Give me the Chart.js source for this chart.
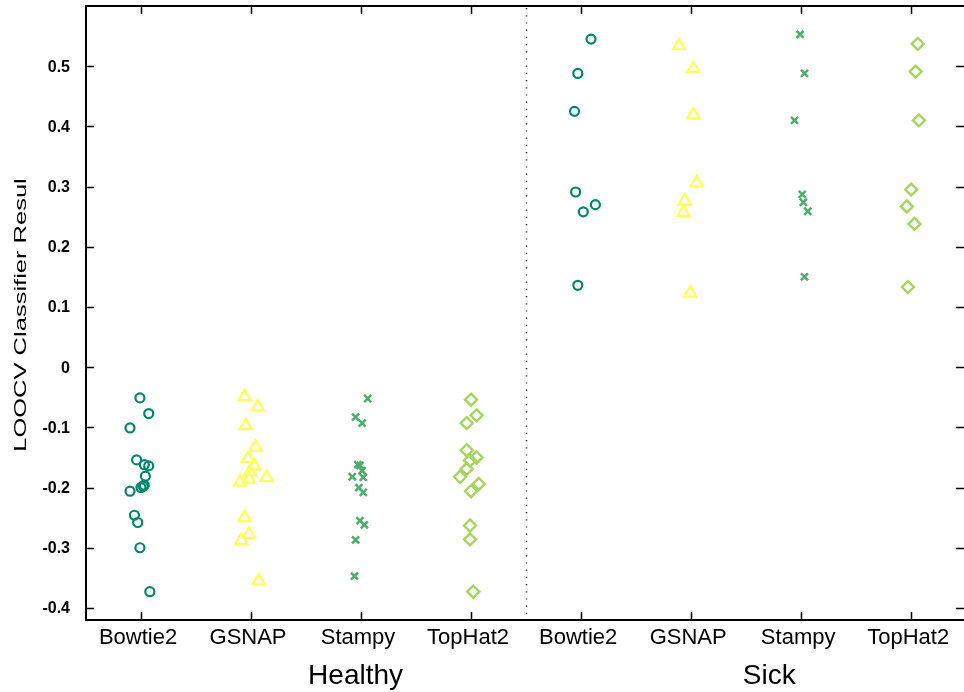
<!DOCTYPE html>
<html>
<head>
<meta charset="utf-8">
<script src="https://cdn.jsdelivr.net/npm/chart.js@4"></script>
<style>
  html, body { margin: 0; padding: 0; background: #fff; overflow: hidden; }
  #wrap { position: absolute; left: 0; top: 0; width: 964px; height: 692px; }
  #chart { display: block; }
</style>
</head>
<body>
<div id="wrap"><canvas id="chart"></canvas></div>
<script>
// categories on the x axis (two groups of four aligners)
const categories = ['Bowtie2', 'GSNAP', 'Stampy', 'TopHat2', 'Bowtie2', 'GSNAP', 'Stampy', 'TopHat2'];
const groupNames = ['Healthy', 'Sick'];
const groupLabelX = [2.95, 6.71];
const yTicks = [-0.4, -0.3, -0.2, -0.1, 0, 0.1, 0.2, 0.3, 0.4, 0.5];

// LOOCV results, healthy samples
const healthyBowtie2 = [-0.051, -0.077, -0.101, -0.154, -0.162, -0.164, -0.181, -0.196, -0.198, -0.200, -0.206, -0.246, -0.258, -0.300, -0.373];
const healthyBowtie2Jit = [-0.01, 0.07, -0.10, -0.04, 0.03, 0.07, 0.04, 0.03, 0.02, 0.00, -0.10, -0.06, -0.03, -0.01, 0.08];
const healthyGSNAP = [-0.049, -0.066, -0.097, -0.133, -0.152, -0.164, -0.174, -0.183, -0.186, -0.191, -0.250, -0.278, -0.288, -0.355];
const healthyGSNAPJit = [-0.06, 0.06, -0.05, 0.04, -0.03, 0.03, -0.01, 0.14, -0.02, -0.10, -0.06, -0.02, -0.09, 0.07];
const healthyStampy = [-0.052, -0.083, -0.093, -0.162, -0.163, -0.172, -0.182, -0.183, -0.200, -0.208, -0.255, -0.262, -0.287, -0.347];
const healthyStampyJit = [0.06, -0.05, 0.01, -0.03, -0.01, 0.01, -0.08, 0.02, -0.02, 0.02, -0.01, 0.03, -0.05, -0.06];
const healthyTopHat2 = [-0.054, -0.080, -0.093, -0.138, -0.150, -0.155, -0.169, -0.182, -0.194, -0.206, -0.263, -0.286, -0.373];
const healthyTopHat2Jit = [0.00, 0.05, -0.04, -0.04, 0.05, -0.01, -0.04, -0.10, 0.07, 0.00, -0.01, -0.01, 0.02];

// LOOCV results, sick samples
const sickBowtie2 = [0.545, 0.488, 0.425, 0.291, 0.270, 0.258, 0.136];
const sickBowtie2Jit = [0.09, -0.03, -0.06, -0.05, 0.13, 0.02, -0.03];
const sickGSNAP = [0.534, 0.496, 0.419, 0.306, 0.276, 0.257, 0.123];
const sickGSNAPJit = [-0.11, 0.02, 0.02, 0.05, -0.06, -0.07, -0.01];
const sickStampy = [0.553, 0.488, 0.410, 0.287, 0.274, 0.259, 0.150];
const sickStampyJit = [-0.01, 0.03, -0.06, 0.01, 0.02, 0.06, 0.03];
const sickTopHat2 = [0.537, 0.491, 0.410, 0.295, 0.267, 0.238, 0.133];
const sickTopHat2Jit = [0.06, 0.04, 0.07, 0.00, -0.04, 0.03, -0.03];

const groups = [
  [healthyBowtie2, healthyBowtie2Jit], [healthyGSNAP, healthyGSNAPJit],
  [healthyStampy, healthyStampyJit], [healthyTopHat2, healthyTopHat2Jit],
  [sickBowtie2, sickBowtie2Jit], [sickGSNAP, sickGSNAPJit],
  [sickStampy, sickStampyJit], [sickTopHat2, sickTopHat2Jit]
];

// one marker style per aligner
const markerStyle = {
  Bowtie2: { pointStyle: 'circle', color: '#00876b', radius: 4.5, width: 2.2 },
  GSNAP: { pointStyle: 'triangle', color: '#ffff55', radius: 7, width: 2.2 },
  Stampy: { pointStyle: 'crossRot', color: '#4cae6a', radius: 5, width: 2.5 },
  TopHat2: { pointStyle: 'rectRot', color: '#a4d65e', radius: 6, width: 2.4 }
};

const datasets = groups.map(([vals, jit], i) => {
  const m = markerStyle[categories[i]];
  return {
    label: groupNames[i < 4 ? 0 : 1] + ' ' + categories[i],
    data: vals.map((v, k) => ({ x: i + 1 + jit[k], y: v })),
    pointStyle: m.pointStyle,
    pointRadius: m.radius,
    pointBorderWidth: m.width,
    pointBorderColor: m.color,
    pointBackgroundColor: 'rgba(0,0,0,0)',
    showLine: false
  };
});

const FONT = '"Liberation Sans", Arial, Helvetica, sans-serif';

// frame with inward ticks, tick labels, dotted group divider, group names and y title
const framePlugin = {
  id: 'frame',
  afterDraw(chart) {
    const { ctx, chartArea: a, scales: { x, y } } = chart;
    ctx.save();
    ctx.strokeStyle = '#000';
    ctx.lineWidth = 2;
    ctx.beginPath();
    ctx.moveTo(a.right, a.top); ctx.lineTo(a.left, a.top);
    ctx.lineTo(a.left, a.bottom); ctx.lineTo(a.right, a.bottom);
    ctx.stroke();
    ctx.beginPath();
    yTicks.forEach(v => {
      const py = Math.round(y.getPixelForValue(v)) + 0.5;
      ctx.moveTo(a.left, py); ctx.lineTo(a.left + 8, py);
      ctx.moveTo(a.right, py); ctx.lineTo(a.right - 8, py);
    });
    categories.forEach((c, i) => {
      const px = Math.round(x.getPixelForValue(i + 1)) + 0.5;
      ctx.moveTo(px, a.bottom); ctx.lineTo(px, a.bottom - 8);
      ctx.moveTo(px, a.top); ctx.lineTo(px, a.top + 8);
    });
    ctx.lineWidth = 1.5;
    ctx.stroke();

    const dx = Math.round(x.getPixelForValue(4.5)) + 0.5;
    ctx.beginPath();
    ctx.setLineDash([1.2, 6]);
    ctx.lineWidth = 1.5;
    ctx.strokeStyle = '#222';
    ctx.moveTo(dx, a.top + 2); ctx.lineTo(dx, a.bottom);
    ctx.stroke();
    ctx.setLineDash([]);

    ctx.fillStyle = '#000';
    ctx.textBaseline = 'middle';

    // y tick labels
    ctx.font = 'bold 16px ' + FONT;
    ctx.textAlign = 'right';
    yTicks.forEach(v => {
      const txt = Math.abs(v) < 1e-9 ? '0' : String(v);
      ctx.fillText(txt, a.left - 16, y.getPixelForValue(v) + 1);
    });

    // category labels
    ctx.font = '22px ' + FONT;
    ctx.textAlign = 'center';
    categories.forEach((c, i) => {
      ctx.fillText(c, x.getPixelForValue(i + 1) - 3, a.bottom + 18);
    });

    // group names
    ctx.font = '28px ' + FONT;
    groupNames.forEach((g, i) => {
      ctx.fillText(g, x.getPixelForValue(groupLabelX[i]), a.bottom + 56);
    });

    // y title, stretched along its length
    ctx.font = '17px ' + FONT;
    ctx.translate(21, 315);
    ctx.rotate(-Math.PI / 2);
    ctx.scale(1.5, 1);
    ctx.fillText('LOOCV Classifier Resul', 0, 0);
    ctx.restore();
  }
};

new Chart(document.getElementById('chart'), {
  type: 'scatter',
  data: { datasets },
  options: {
    responsive: true,
    maintainAspectRatio: false,
    animation: false,
    layout: { autoPadding: false, padding: { top: 6, right: 0, left: 0, bottom: 0 } },
    plugins: { legend: { display: false }, tooltip: { enabled: false } },
    scales: {
      x: {
        type: 'linear',
        min: 0.5,
        max: 8.48,
        grid: { display: false },
        border: { display: false },
        ticks: { display: false },
        afterFit: s => { s.height = 72; }
      },
      y: {
        min: -0.42,
        max: 0.6,
        grid: { display: false },
        border: { display: false },
        ticks: { display: false },
        afterFit: s => { s.width = 86; }
      }
    }
  },
  plugins: [framePlugin]
});
</script>
</body>
</html>
